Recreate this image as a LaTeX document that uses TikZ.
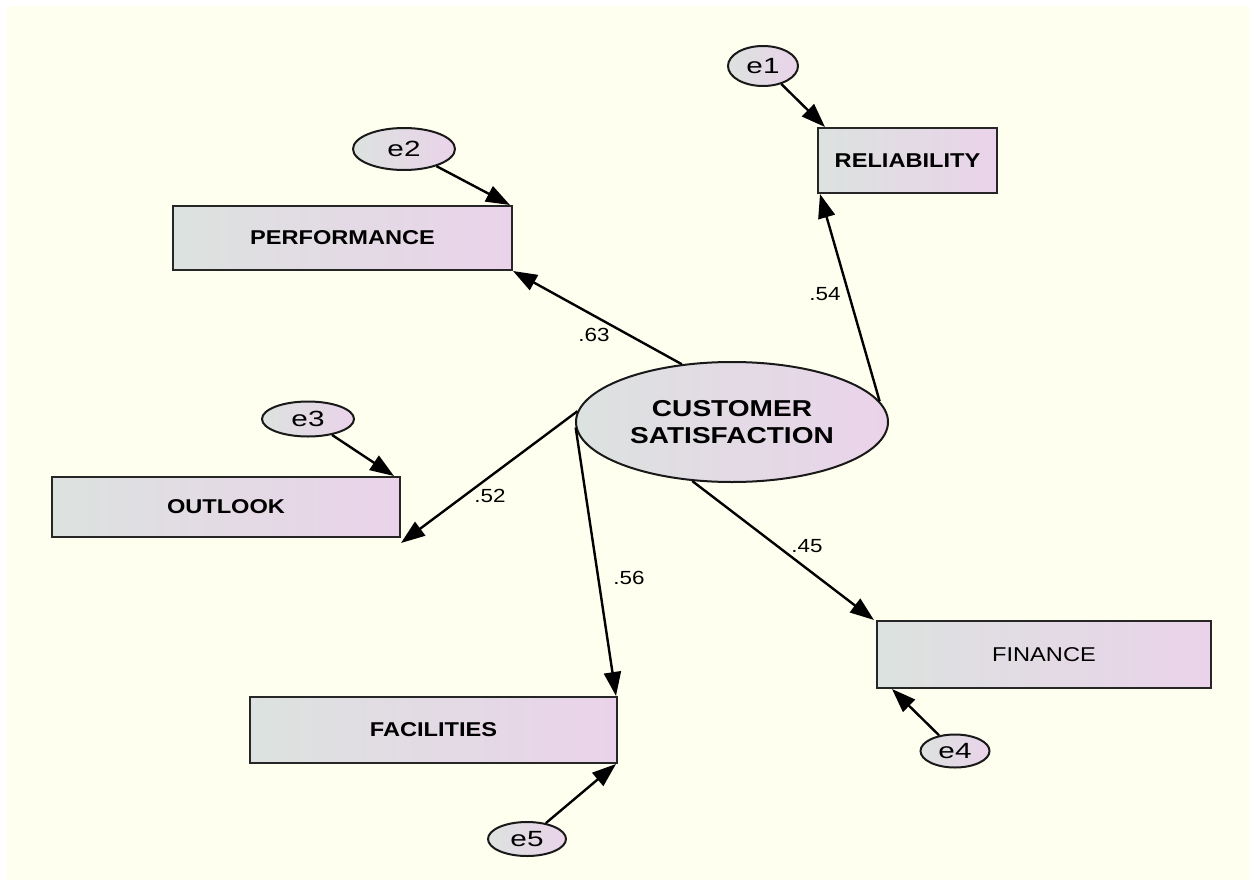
\documentclass[tikz,border=0pt]{standalone}
\usepackage{fontspec}
\setmainfont{Liberation Sans}
\newfontfamily\widefont{Liberation Sans}[FakeStretch=1.18]
\newfontfamily\latentfont{Liberation Sans}[FakeStretch=1.22]
\newfontfamily\errfont{Liberation Sans}[FakeStretch=1.35]
\usetikzlibrary{shapes.geometric,arrows.meta}

\definecolor{paper}{RGB}{255,255,240}
\definecolor{fillleft}{RGB}{220,226,223}
\definecolor{fillright}{RGB}{234,211,234}

\tikzset{
  box/.style={draw=black!85, line width=2pt, left color=fillleft, right color=fillright,
    inner sep=0pt, font=\widefont\bfseries\fontsize{20}{22}\selectfont},
  latent/.style={ellipse, draw=black!90, line width=2pt, left color=fillleft, right color=fillright,
    minimum width=312pt, minimum height=120pt, inner sep=0pt, align=center,
    font=\latentfont\bfseries\fontsize{23}{27}\selectfont},
  err/.style={ellipse, draw=black!90, line width=2pt, left color=fillleft, right color=fillright,
    inner sep=0pt, font=\errfont\fontsize{22}{22}\selectfont},
  load/.style={line width=2.4pt, -{Triangle[length=24pt,width=17pt]}},
  coef/.style={font=\widefont\fontsize{19}{19}\selectfont, inner sep=0pt},
}

\begin{document}
\begin{tikzpicture}[x=1pt,y=-1pt]
  % page
  \fill[white] (0,0) rectangle (1249,880);
  \fill[paper] (7,6) rectangle (1249,880);
  \useasboundingbox (0,0) rectangle (1249,880);

  % factor
  \node[latent] (cs) at (732,422) {CUSTOMER\\SATISFACTION};

  % indicators
  \node[box, minimum width=339pt, minimum height=64pt] (perf) at (342.5,238) {PERFORMANCE};
  \node[box, minimum width=179pt, minimum height=65pt] (rel) at (907.5,160.5) {RELIABILITY};
  \node[box, minimum width=348pt, minimum height=60pt] (outl) at (226,507) {OUTLOOK};
  \node[box, minimum width=367pt, minimum height=66pt] (fac) at (433.5,730) {FACILITIES};
  \node[box, minimum width=334pt, minimum height=67pt] (fin) at (1044,654.5) {\mdseries FINANCE};

  % residuals
  \node[err, minimum width=70pt, minimum height=40pt] (e1) at (763,66) {e1};
  \node[err, minimum width=102pt, minimum height=42pt] (e2) at (404,149) {e2};
  \node[err, minimum width=92pt, minimum height=35pt] (e3) at (308,419) {e3};
  \node[err, minimum width=69pt, minimum height=33pt] (e4) at (955,751) {e4};
  \node[err, minimum width=78pt, minimum height=34pt] (e5) at (527,839) {e5};

  % loadings
  \draw[load] (cs.131) -- (perf.south east);
  \draw[load] (cs.8) -- ([xshift=3pt]rel.south west);
  \draw[load] (cs.176) -- ([yshift=-5pt]outl.south east);
  \draw[load] (cs.182) -- ([xshift=-2pt]fac.north east);
  \draw[load] (cs.236) -- ([xshift=-2pt]fin.north west);

  \draw[load] (e1) -- ([xshift=8pt]rel.north west);
  \draw[load] (e2) -- ([xshift=-3pt]perf.north east);
  \draw[load] (e3) -- ([xshift=-7pt]outl.north east);
  \draw[load] (e4) -- ([xshift=16pt]fin.south west);
  \draw[load] (e5) -- ([xshift=-2pt]fac.south east);

  % coefficients
  \node[coef] (c63) at (594,335) {.63};
  \node[coef] (c54) at (825,294) {.54};
  \node[coef] (c52) at (490,496) {.52};
  \node[coef] (c56) at (629,578) {.56};
  \node[coef] (c45) at (807,546) {.45};
\end{tikzpicture}
\end{document}
